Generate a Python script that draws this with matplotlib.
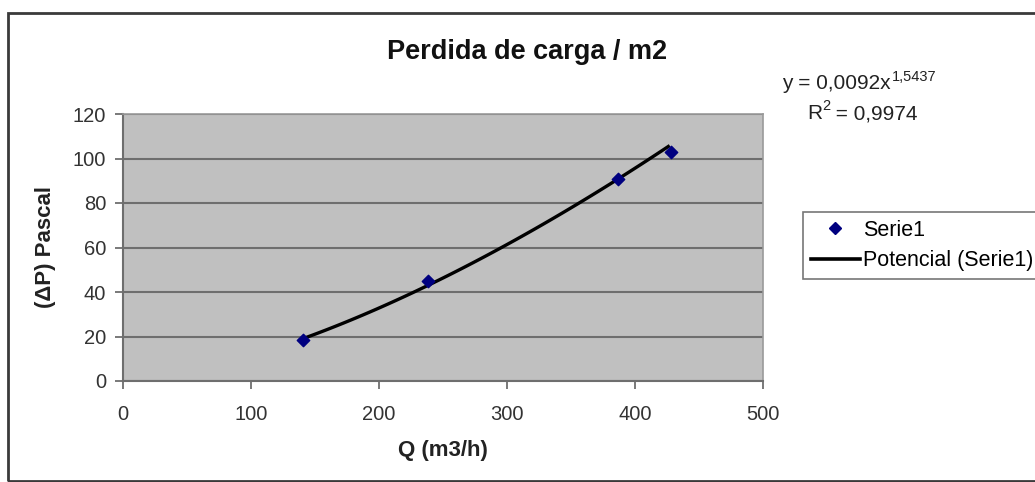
import numpy as np
import matplotlib
matplotlib.use("Agg")
import matplotlib.pyplot as plt
from matplotlib.patches import Rectangle
from matplotlib.lines import Line2D

plt.rcParams["font.family"] = ["Liberation Sans", "DejaVu Sans"]

# data
caudal = [141, 238, 387, 428]          # Q (m3/h)
perdida = [18.5, 45, 91, 103]          # (ΔP) Pascal
coef_a = 0.0092                        # power trendline y = a * x^b
coef_b = 1.5437
eq_text = "y = 0,0092x"
eq_exp = "1,5437"
r2_text = "0,9974"
x_ticks = [0, 100, 200, 300, 400, 500]
y_ticks = [0, 20, 40, 60, 80, 100, 120]

W, H = 1035, 482
fig = plt.figure(figsize=(W / 100, H / 100), dpi=100)


def fx(px):
    return px / W


def fy(py):
    return 1 - py / H


# outer chart border
fig.patches.append(Rectangle((fx(8), fy(481)), fx(1040) - fx(8), fy(13) - fy(481),
                             transform=fig.transFigure, fill=False,
                             edgecolor="#3a3a3a", linewidth=2, clip_on=False))

ax = fig.add_axes([fx(123), fy(381), fx(763) - fx(123), fy(114) - fy(381)])
ax.set_facecolor("#c0c0c0")

# trendline
xs = np.linspace(min(caudal), max(caudal) - 2, 100)
ax.plot(xs, coef_a * xs ** coef_b, color="black", lw=2.4, zorder=3)
ax.scatter(caudal, perdida, marker="D", s=40, color="#000080", zorder=4)

ax.set_xlim(0, 500)
ax.set_ylim(0, 120)
ax.set_xticks(x_ticks)
ax.set_yticks(y_ticks)
ax.yaxis.grid(True, color="#6e6e6e", lw=1.5)
ax.set_axisbelow(True)
for s in ["left", "bottom"]:
    ax.spines[s].set_color("#6e6e6e")
    ax.spines[s].set_linewidth(1.5)
for s in ["top", "right"]:
    ax.spines[s].set_color("#9a9a9a")
    ax.spines[s].set_linewidth(1.2)
ax.tick_params(direction="out", length=6, width=1.3, color="#6e6e6e",
               labelsize=14.5, labelcolor="#333333")
ax.tick_params(axis="x", pad=11)
ax.tick_params(axis="y", pad=6)

ax.set_xlabel("Q (m3/h)", fontsize=16, fontweight="bold", labelpad=12, color="#222222")
ax.set_ylabel("(ΔP) Pascal", fontsize=16, fontweight="bold", labelpad=12, color="#222222")

fig.text(fx(527), fy(52), "Perdida de carga / m2", fontsize=19.5, fontweight="bold",
         ha="center", va="center", color="#111111")

# trendline equation, superscript drawn as its own text
eq = fig.text(fx(782), fy(89), eq_text, fontsize=15, ha="left", va="baseline",
              color="#222222")
fig.canvas.draw()
bb = eq.get_window_extent()
fig.text(bb.x1 / W + 0.001, fy(81), eq_exp, fontsize=10.5, ha="left",
         va="baseline", color="#222222")
r2 = fig.text(fx(807), fy(119), "R", fontsize=15, ha="left", va="baseline",
              color="#222222")
fig.canvas.draw()
bb = r2.get_window_extent()
fig.text(bb.x1 / W + 0.0005, fy(110), "2", fontsize=10.5, ha="left", va="baseline",
         color="#222222")
fig.text(bb.x1 / W + 0.008, fy(119), " = " + r2_text, fontsize=15, ha="left",
         va="baseline", color="#222222")

handles = [Line2D([], [], marker="D", ls="none", color="#000080", markersize=6),
           Line2D([], [], color="black", lw=2.6)]
leg = fig.legend(handles, ["Serie1", "Potencial (Serie1)"], loc="upper left",
                 bbox_to_anchor=(fx(803), fy(212)), fontsize=15.5, frameon=True,
                 fancybox=False, edgecolor="#555555", handlelength=2.3,
                 handletextpad=0.15, borderpad=0.35, labelspacing=0.45,
                 borderaxespad=0)
leg.get_frame().set_linewidth(1.2)

fig.savefig("out.png", dpi=100)
